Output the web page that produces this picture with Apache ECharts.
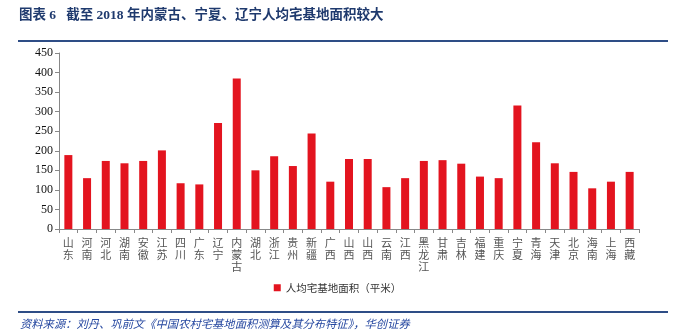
<!DOCTYPE html>
<html><head><meta charset="utf-8">
<script src="https://cdn.jsdelivr.net/npm/echarts@6/dist/echarts.min.js"></script>
<style>html,body{margin:0;padding:0;background:#fff}#c{width:675px;height:336px}</style>
</head><body><div id="c"></div>
<script>
const categories = ['山东','河南','河北','湖南','安徽','江苏','四川','广东','辽宁','内蒙古','湖北','浙江','贵州','新疆','广西','山西','山西','云南','江西','黑龙江','甘肃','吉林','福建','重庆','宁夏','青海','天津','北京','海南','上海','西藏'];
const values = [189,130,174,168,174,201,117,114,271,385,150,186,161,244,121,179,179,107,130,174,176,167,134,130,316,222,168,146,104,121,146];
const yTicks = [0,50,100,150,200,250,300,350,400,450];
const seriesName = '人均宅基地面积（平米）';
const titleText = '图表 6   截至 2018 年内蒙古、宁夏、辽宁人均宅基地面积较大';
const sourceText = '资料来源：刘丹、巩前文《中国农村宅基地面积测算及其分布特征》，华创证券';

const chart = echarts.init(document.getElementById('c'), null, {renderer:'canvas'});
chart.setOption({
  animation:false,
  grid:{left:59, right:36, top:53, bottom:107},
  legend:{show:true, data:[seriesName], bottom:38, left:'center', itemWidth:7, itemHeight:7, icon:'rect', itemGap:4,
    textStyle:{fontSize:10.5, color:'#333', fontFamily:'Noto Sans CJK SC'}},
  xAxis:{type:'category', data:categories,
    axisLine:{lineStyle:{color:'#888'}},
    axisTick:{show:true, alignWithLabel:false, length:4, lineStyle:{color:'#888'}},
    axisLabel:{interval:0, color:'#555', fontSize:11, lineHeight:12, fontFamily:'Noto Sans CJK SC',
      formatter:v=>v.split('').join('\n')}},
  yAxis:{type:'value', min:yTicks[0], max:yTicks[yTicks.length-1], interval:50,
    axisLine:{show:true, lineStyle:{color:'#888'}},
    axisTick:{show:true, length:4, lineStyle:{color:'#888'}},
    splitLine:{show:false},
    axisLabel:{color:'#111', fontSize:12, fontFamily:'Liberation Serif', margin:6}},
  series:[{name:seriesName, type:'bar', data:values, barWidth:8, itemStyle:{color:'#E3141F'}}],
  graphic:[
    {type:'text', left:19, top:9, style:{text:titleText, fill:'#1F3A6E', font:'bold 13.5px "Liberation Serif","Noto Sans CJK SC"'}},
    {type:'rect', shape:{x:18, y:40, width:650, height:2}, style:{fill:'#2E4D86'}},
    {type:'rect', shape:{x:18, y:311, width:650, height:2}, style:{fill:'#2E4D86'}},
    {type:'text', left:20, top:318, style:{text:sourceText, fill:'#2547A0', font:'italic 11.3px "Noto Sans CJK SC"'}}
  ]
});
</script></body></html>
